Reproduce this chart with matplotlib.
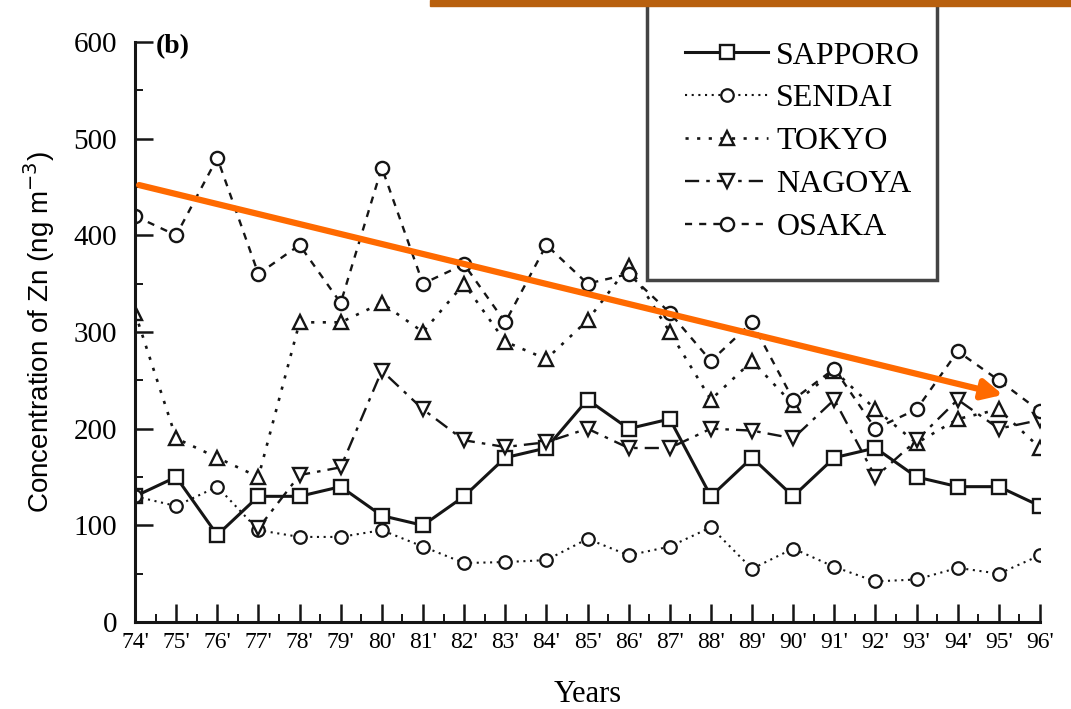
import numpy as np
import matplotlib
matplotlib.use("Agg")
import matplotlib.pyplot as plt
from matplotlib.patches import Rectangle
from matplotlib.ticker import MultipleLocator

years = np.arange(74, 97)
year_labels = ["%d'" % y for y in years]

sapporo = [130, 150, 90, 130, 130, 140, 110, 100, 130, 170, 180, 230, 200, 210, 130, 170, 130, 170, 180, 150, 140, 140, 120]
sendai = [130, 120, 140, 95, 88, 88, 95, 78, 61, 62, 64, 86, 69, 78, 98, 55, 76, 57, 42, 44, 56, 50, 69]
tokyo = [320, 190, 170, 150, 310, 310, 330, 300, 350, 290, 272, 312, 368, 300, 230, 270, 225, 260, 220, 185, 210, 220, 180]
nagoya = [np.nan, np.nan, np.nan, 97, 152, 160, 260, 220, 188, 181, 186, 200, 180, 180, 200, 198, 190, 230, 150, 188, 230, 200, 209]
osaka = [420, 400, 480, 360, 390, 330, 470, 350, 370, 310, 390, 350, 360, 320, 270, 310, 230, 262, 200, 220, 280, 250, 218]

# trend arrow drawn over the chart (start, end in data units)
trend_start = (74.1, 452)
trend_end = (95.1, 235)

serif = ["Liberation Serif", "DejaVu Serif"]
ink = "#151515"

fig = plt.figure(figsize=(10.71, 7.09), dpi=100)
ax = fig.add_axes([135 / 1071, 1 - 622 / 709, (1040 - 135) / 1071, (622 - 42) / 709])

ax.plot(years, sapporo, color=ink, lw=2.2, ls="-", marker="s", ms=9.5, mfc="white", mec=ink, mew=1.7, label="SAPPORO")
ax.plot(years, sendai, color=ink, lw=1.5, ls=(0, (1, 2.2)), marker="o", ms=9, mfc="white", mec=ink, mew=1.6, label="SENDAI")
ax.plot(years, tokyo, color=ink, lw=1.9, ls=(0, (1.2, 3.2)), marker="^", ms=9.5, mfc="white", mec=ink, mew=1.7, label="TOKYO")
ax.plot(years, nagoya, color=ink, lw=1.7, ls=(0, (6, 3, 1.5, 3)), marker="v", ms=9.5, mfc="white", mec=ink, mew=1.7, label="NAGOYA")
ax.plot(years, osaka, color=ink, lw=1.7, ls=(0, (3, 3)), marker="o", ms=9.5, mfc="white", mec=ink, mew=1.7, label="OSAKA")

ax.set_xlim(74, 96)
ax.set_ylim(0, 600)
ax.set_xticks(years)
ax.set_xticklabels(year_labels, fontfamily=serif, fontsize=17)
ax.xaxis.set_minor_locator(MultipleLocator(0.5))
ax.yaxis.set_major_locator(MultipleLocator(100))
ax.yaxis.set_minor_locator(MultipleLocator(50))
for lab in ax.get_yticklabels():
    lab.set_fontfamily(serif)
    lab.set_fontsize(21)
ax.tick_params(axis="both", which="major", direction="in", length=13, width=1.8, color=ink, pad=7)
ax.tick_params(axis="both", which="minor", direction="in", length=6, width=1.4, color=ink)
ax.tick_params(axis="y", which="major", pad=13)
for s in ["top", "right"]:
    ax.spines[s].set_visible(False)
for s in ["left", "bottom"]:
    ax.spines[s].set_linewidth(2.2)
    ax.spines[s].set_color(ink)

ax.set_xlabel("Years", fontfamily=serif, fontsize=22, labelpad=20)
ax.set_ylabel("Concentration of Zn (ng m$^{-3}$)", fontfamily=["Liberation Sans", "DejaVu Sans"],
              fontsize=20, labelpad=12)
ax.text(74.5, 595, "(b)", fontfamily=serif, fontsize=20, fontweight="bold", va="center", ha="left")

leg = ax.legend(loc="upper left", bbox_to_anchor=(647 / 1071, 1 - 10 / 709, (937 - 647) / 1071, 0.01),
                bbox_transform=fig.transFigure, mode="expand", prop={"family": serif, "size": 23},
                frameon=True, fancybox=False, edgecolor=ink, handlelength=2.6, handletextpad=0.25,
                labelspacing=0.42, borderpad=1.2, borderaxespad=0)
leg.get_frame().set_linewidth(2.5)

ax.annotate("", xy=trend_end, xytext=trend_start,
            arrowprops=dict(arrowstyle="-|>", color="#FF6A00", lw=4.5, mutation_scale=30, shrinkA=0, shrinkB=0))

fig.patches.append(Rectangle((430 / 1071, 1 - 6 / 709), 1 - 430 / 1071, 6 / 709,
                             transform=fig.transFigure, color="#B8600E", zorder=5))

fig.savefig("out.png", dpi=100)
